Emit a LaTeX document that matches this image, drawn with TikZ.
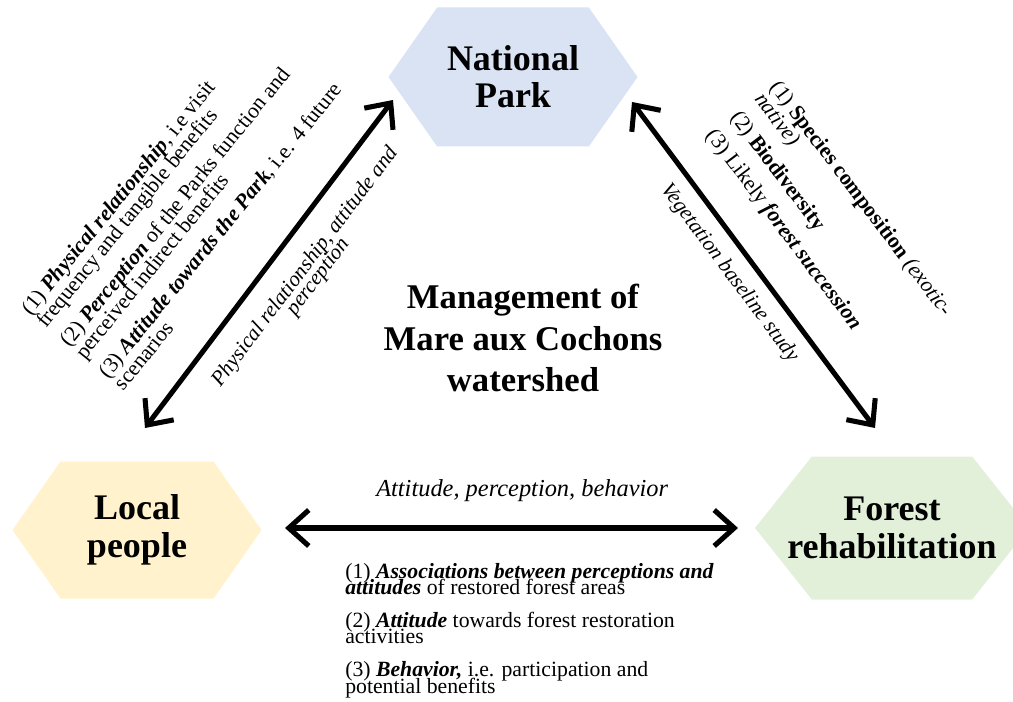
\documentclass[tikz,border=0pt]{standalone}
\usepackage{fontspec}
\setmainfont{Liberation Serif}
\usetikzlibrary{arrows.meta,shapes.symbols}
\definecolor{parkblue}{HTML}{DAE3F3}
\definecolor{peopleyellow}{HTML}{FFF2CC}
\definecolor{forestgr}{HTML}{E2F0D9}
\lineskiplimit=-100pt
\begin{document}
\begin{tikzpicture}[x=0.75pt, y=-0.75pt,
  hexa/.style={signal, signal to=west and east, inner sep=0pt, align=center,
    font=\fontsize{27}{28}\selectfont\bfseries},
  twoway/.style={{Straight Barb[length=15pt,width=27pt]}-{Straight Barb[length=15pt,width=27pt]}, line width=3.8pt},
  smalltext/.style={inner sep=0pt, font=\fontsize{16.3}{12.2}\selectfont},
  slanttext/.style={inner sep=0pt, align=left, font=\fontsize{16.3}{14.7}\selectfont}]
  \useasboundingbox (0,0) rectangle (1013,702);
  \node[hexa, fill=parkblue, minimum width=186.75pt, minimum height=104.25pt, signal pointer angle=110] (np) at (513,77) {National\\Park};
  \node[hexa, fill=peopleyellow, minimum width=186.75pt, minimum height=102.75pt, signal pointer angle=110] (lp) at (137,530) {Local\\people};
  \node[hexa, fill=forestgr, inner xsep=-22pt, minimum width=205.5pt, minimum height=107.25pt, signal pointer angle=103] (fr) at (892,528) {Forest\\rehabilitation};
  \node[font=\fontsize{26}{31}\selectfont\bfseries, align=center] (mgmt) at (523,338) {Management of\\Mare aux Cochons\\watershed};
  \coordinate (lpA) at (145,428);
  \coordinate (npA) at (393,100);
  \coordinate (npB) at (632,102);
  \coordinate (frB) at (875,428);
  \coordinate (lpC) at (285,528);
  \coordinate (frC) at (738,528);
  \draw[twoway] (lpA) -- (npA) node[smalltext, pos=0.547, sloped, below=14pt, align=center, font=\fontsize{16}{12.2}\selectfont\itshape] (relabel) {Physical relationship, attitude and\\perception};
  \draw[twoway] (npB) -- (frB) node[smalltext, pos=0.48, sloped, below=9pt, font=\fontsize{16}{12.2}\selectfont\itshape] (veglabel) {Vegetation baseline study};
  \draw[twoway] (lpC) -- (frC) node[midway, above=18pt, xshift=8pt, inner sep=0pt, font=\fontsize{18.3}{20}\selectfont\itshape] (apblabel) {Attitude, perception, behavior};
  \node[slanttext, rotate=51, anchor=north west] (parklist) at (19,307) {(1) \textbf{\textit{Physical relationship}}, i.e visit\\frequency and tangible benefits\\[8pt](2) \textbf{\textit{Perception}} of the Parks function and\\perceived indirect benefits\\[8pt](3) \textbf{\textit{Attitude towards the Park}}, i.e. 4 future\\scenarios};
  \node[slanttext, rotate=-53, anchor=north west] (veglist) at (782,78) {(1) \textbf{Species composition} \textit{(exotic-}\\\textit{native)}\\[8pt](2) \textbf{Biodiversity}\\[8pt](3) Likely \textbf{\textit{forest succession}}};
  \node[smalltext, anchor=north west, align=left] (restlist) at (345,563) {(1) \textbf{\textit{Associations between perceptions and}}\\\textbf{\textit{attitudes}} of restored forest areas\\[12.5pt](2) \textbf{\textit{Attitude}} towards forest restoration\\activities\\[12.5pt](3) \textbf{\textit{Behavior,}} i.e. participation and\\potential benefits};
\end{tikzpicture}
\end{document}
